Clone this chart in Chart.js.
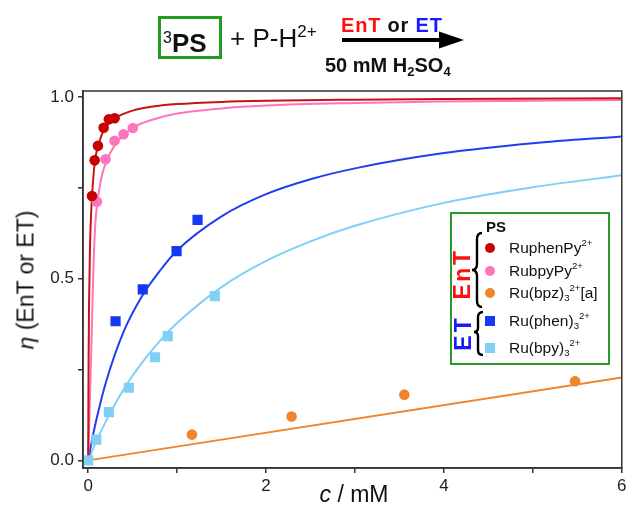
<!DOCTYPE html>
<html>
<head>
<meta charset="utf-8">
<script src="https://cdn.jsdelivr.net/npm/chart.js@4/dist/chart.umd.min.js"></script>
<style>
  html, body { margin:0; padding:0; background:#fff; }
  #wrap { position:relative; width:629px; height:506px; overflow:hidden; font-family:"Liberation Sans", Arial, sans-serif; color:#111; }
  #c { position:absolute; left:0; top:0; }
  .abs { position:absolute; white-space:nowrap; }
  sup, sub { font-size:62%; line-height:0; }
  sup { vertical-align: 0.75em; }
  sub { vertical-align: -0.3em; }
</style>
</head>
<body>
<div id="wrap">
  <canvas id="c" width="629" height="506"></canvas>

  <!-- header reaction scheme -->
  <div class="abs" style="left:158px;top:16px;width:58px;height:37px;border:3px solid #229b22;"></div>
  <div class="abs" style="left:163px;top:25px;font-size:26px;line-height:26px;"><span style="font-size:16px;vertical-align:9px;">3</span><b>PS</b></div>
  <div class="abs" style="left:230px;top:25px;font-size:26px;line-height:26px;">+ P-H<sup style="font-size:17px;vertical-align:10px;">2+</sup></div>
  <div class="abs" style="left:341px;top:15px;font-size:20px;line-height:20px;font-weight:bold;letter-spacing:0.8px;"><span style="color:#ff1010">EnT</span> or <span style="color:#1a1aff">ET</span></div>
  <svg class="abs" style="left:342px;top:30px;" width="124" height="20">
    <line x1="0" y1="10" x2="100" y2="10" stroke="#000" stroke-width="4"/>
    <polygon points="97,1.5 122,10 97,18.5" fill="#000"/>
  </svg>
  <div class="abs" style="left:325px;top:55px;font-size:20px;line-height:20px;font-weight:bold;">50 mM H<sub style="font-size:13px;vertical-align:-4px;">2</sub>SO<sub style="font-size:13px;vertical-align:-4px;">4</sub></div>

  <!-- axis titles -->
  <div class="abs" style="left:26px;top:280px;transform:translate(-50%,-50%) rotate(-90deg);font-size:23px;line-height:23px;"><i>η</i> (EnT or ET)</div>
  <div class="abs" style="left:354px;top:483px;transform:translateX(-50%);font-size:23px;line-height:23px;"><i>c</i> / mM</div>

  <!-- legend -->
  <div id="legend"></div>
</div>

<script>
// ---------------- data ----------------
// measured points
const redPtsX   = [0.043, 0.073, 0.110, 0.174, 0.233, 0.297];
const redPtsY   = [0.728, 0.826, 0.866, 0.916, 0.939, 0.942];
const pinkPtsX  = [0.099, 0.196, 0.297, 0.398, 0.502];
const pinkPtsY  = [0.712, 0.829, 0.880, 0.898, 0.915];
const orangePtsX = [1.167, 2.287, 3.555, 5.474];
const orangePtsY = [0.071, 0.121, 0.181, 0.218];
const bluePtsX  = [0.308, 0.614, 0.994, 1.230];
const bluePtsY  = [0.383, 0.471, 0.576, 0.662];
const lbluePtsX = [0, 0.092, 0.233, 0.457, 0.752, 0.894, 1.424];
const lbluePtsY = [0, 0.057, 0.133, 0.200, 0.284, 0.342, 0.452];

// fitted curves
const redCurveX = [0, 0.005, 0.01, 0.02, 0.03, 0.043, 0.06, 0.08, 0.1, 0.15, 0.2, 0.3, 0.5, 0.75, 1, 1.5, 2, 3, 4, 6];
const redCurveY = [0, 0.28, 0.43, 0.58, 0.66, 0.725, 0.785, 0.83, 0.855, 0.895, 0.918, 0.942, 0.963, 0.975, 0.981, 0.987, 0.990, 0.993, 0.995, 0.997];
const pinkCurveX = [0, 0.01, 0.02, 0.036, 0.05, 0.065, 0.08, 0.1, 0.15, 0.2, 0.3, 0.5, 0.75, 1, 1.5, 2, 3, 4, 6];
const pinkCurveY = [0, 0.08, 0.17, 0.31, 0.45, 0.57, 0.65, 0.705, 0.78, 0.82, 0.868, 0.915, 0.94, 0.955, 0.969, 0.977, 0.984, 0.988, 0.992];
const orangeCurveX = [0, 6];
const orangeCurveY = [0, 0.228];
const blueCurveX = [0, 0.05, 0.1, 0.2, 0.4, 0.6, 0.8, 1.0, 1.5, 2, 2.5, 3, 4, 5, 6];
const blueCurveY = [0, 0.064, 0.12, 0.215, 0.355, 0.45, 0.52, 0.578, 0.672, 0.733, 0.774, 0.804, 0.846, 0.873, 0.892];
const lblueCurveX = [0, 0.1, 0.2, 0.4, 0.6, 0.8, 1.0, 1.5, 2, 2.5, 3, 4, 5, 6];
const lblueCurveY = [0, 0.057, 0.108, 0.196, 0.267, 0.327, 0.378, 0.477, 0.549, 0.603, 0.646, 0.709, 0.752, 0.785];

// axes
const xTickValues = [0, 1, 2, 3, 4, 5, 6];
const xTickLabels = [0, 2, 4, 6];
const yTickValues = [0, 0.25, 0.5, 0.75, 1.0];
const yTickLabels = [0, 0.5, 1.0];

// legend
const seriesNames = ['RuphenPy<sup>2+</sup>', 'RubpyPy<sup>2+</sup>', 'Ru(bpz)<sub>3</sub><sup>2+</sup>[a]', 'Ru(phen)<sub>3</sub><sup>2+</sup>', 'Ru(bpy)<sub>3</sub><sup>2+</sup>'];
const seriesColors = ['#c80000', '#ff74bd', '#f2852a', '#1538f2', '#80cff6'];
const lineColors   = ['#c81414', '#ff74bd', '#f2852a', '#1f3fee', '#80cff6'];
const seriesShapes = ['circle', 'circle', 'circle', 'rect', 'rect'];

// ---------------- build ----------------
const pts = (xs, ys) => xs.map((x, i) => ({ x: x, y: ys[i] }));
const ptX = [redPtsX, pinkPtsX, orangePtsX, bluePtsX, lbluePtsX];
const ptY = [redPtsY, pinkPtsY, orangePtsY, bluePtsY, lbluePtsY];
const cvX = [redCurveX, pinkCurveX, orangeCurveX, blueCurveX, lblueCurveX];
const cvY = [redCurveY, pinkCurveY, orangeCurveY, blueCurveY, lblueCurveY];

const datasets = [];
// point datasets first (drawn on top); light blue origin on very top
[4, 0, 1, 2, 3].forEach(i => {
  datasets.push({
    label: seriesNames[i],
    data: pts(ptX[i], ptY[i]),
    showLine: false,
    pointStyle: seriesShapes[i],
    pointRadius: seriesShapes[i] === 'rect' ? 7.2 : 5.3,
    backgroundColor: seriesColors[i],
    borderColor: seriesColors[i],
    borderWidth: 0
  });
});
[0, 1, 2, 3, 4].forEach(i => {
  datasets.push({
    label: 'fit ' + i,
    data: pts(cvX[i], cvY[i]),
    showLine: true,
    pointRadius: 0,
    borderColor: lineColors[i],
    borderWidth: 2,
    cubicInterpolationMode: 'monotone',
    fill: false
  });
});

const framePlugin = {
  id: 'frame',
  afterDatasetsDraw(chart) {
    const { ctx, chartArea: a } = chart;
    ctx.save();
    ctx.strokeStyle = '#333';
    ctx.lineWidth = 1.5;
    ctx.strokeRect(a.left, a.top, a.right - a.left, a.bottom - a.top);
    ctx.restore();
  }
};

new Chart(document.getElementById('c'), {
  type: 'scatter',
  data: { datasets },
  plugins: [framePlugin],
  options: {
    responsive: false,
    animation: false,
    devicePixelRatio: 1,
    events: [],
    layout: { padding: { top: 91, right: 5, bottom: 0, left: 0 } },
    plugins: { legend: { display: false }, tooltip: { enabled: false } },
    scales: {
      x: {
        type: 'linear', min: -0.058, max: 6,
        afterBuildTicks: s => { s.ticks = xTickValues.map(v => ({ value: v })); },
        afterFit: s => { s.height = 38; s.paddingRight = 0; s.paddingLeft = 0; },
        ticks: {
          autoSkip: false, maxRotation: 0, padding: 3, color: '#222',
          font: { family: "'Liberation Sans', Arial, sans-serif", size: 17 },
          callback: v => xTickLabels.includes(v) ? String(v) : ''
        },
        grid: { drawOnChartArea: false, drawTicks: true, tickLength: 5, color: '#333', lineWidth: 1.5 },
        border: { display: true, color: '#333', width: 1.5 }
      },
      y: {
        type: 'linear', min: -0.021, max: 1.017,
        afterBuildTicks: s => { s.ticks = yTickValues.map(v => ({ value: v })); },
        afterFit: s => { s.width = 83; s.paddingTop = 0; s.paddingBottom = 0; },
        ticks: {
          autoSkip: false, padding: 4, color: '#222',
          font: { family: "'Liberation Sans', Arial, sans-serif", size: 17 },
          callback: v => yTickLabels.includes(v) ? v.toFixed(1) : ''
        },
        grid: { drawOnChartArea: false, drawTicks: true, tickLength: 5, color: '#333', lineWidth: 1.5 },
        border: { display: true, color: '#333', width: 1.5 }
      }
    }
  }
});

// ---------------- HTML legend ----------------
const legendRowsY = [248, 271, 293, 321, 348];
let html = '<div class="abs" style="left:450px;top:212px;width:156px;height:149px;border:2px solid #2a9a2a;"></div>';
html += '<div class="abs" style="left:486px;top:219px;font-size:15px;line-height:16px;font-weight:bold;">PS</div>';
html += '<div class="abs" style="left:462px;top:274px;transform:translate(-50%,-50%) rotate(-90deg);font-size:23px;line-height:23px;font-weight:bold;letter-spacing:2.5px;color:#ff1010;">EnT</div>';
html += '<div class="abs" style="left:463px;top:333px;transform:translate(-50%,-50%) rotate(-90deg);font-size:23px;line-height:23px;font-weight:bold;letter-spacing:3px;color:#1a1aff;">ET</div>';
html += '<svg class="abs" style="left:466px;top:228px;" width="24" height="135">' +
  '<path d="M16 5 Q11 5 11 11 L11 36 Q11 42 6 42 Q11 42 11 48 L11 73 Q11 79 16 79" fill="none" stroke="#000" stroke-width="2.4"/>' +
  '<path d="M17 84 Q12 84 12 89 L12 100 Q12 104 8 104 Q12 104 12 108 L12 122 Q12 127 17 127" fill="none" stroke="#000" stroke-width="2.4"/>' +
  '</svg>';
seriesNames.forEach((name, i) => {
  const y = legendRowsY[i];
  if (seriesShapes[i] === 'circle') {
    html += `<div class="abs" style="left:485px;top:${y - 5}px;width:10px;height:10px;border-radius:50%;background:${seriesColors[i]};"></div>`;
  } else {
    html += `<div class="abs" style="left:485px;top:${y - 5}px;width:10px;height:10px;background:${seriesColors[i]};"></div>`;
  }
  html += `<div class="abs" style="left:509px;top:${y - 9}px;font-size:15.5px;line-height:18px;">${name}</div>`;
});
document.getElementById('legend').innerHTML = html;
</script>
</body>
</html>
